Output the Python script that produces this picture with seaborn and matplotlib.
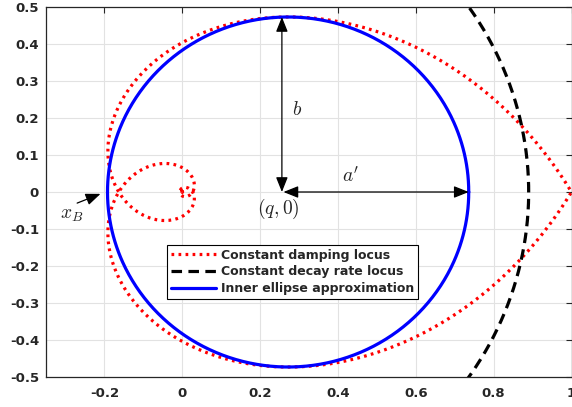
import numpy as np
import pandas as pd
import matplotlib
matplotlib.use("Agg")
import matplotlib.pyplot as plt
import seaborn as sns

# ---------------- data ----------------
damping_ratio = 0.5          # zeta of the constant damping locus
spiral_end_angle = 6 * np.pi # how far the spiral is drawn into the origin
decay_radius = 0.89          # radius of the constant decay rate locus
ellipse_q = 0.272            # centre of inner ellipse (q, 0)
ellipse_a = 0.464            # horizontal semi-axis a'
ellipse_b = 0.473            # vertical semi-axis b
annot_q = 0.256              # x of the annotation arrows
x_B = -0.21                  # point marked x_B

series_labels = ["Constant damping locus",
                 "Constant decay rate locus",
                 "Inner ellipse approximation"]
x_ticks = [-0.2, 0, 0.2, 0.4, 0.6, 0.8, 1]
x_tick_labels = ["-0.2", "0", "0.2", "0.4", "0.6", "0.8", "1"]
y_ticks = [-0.5, -0.4, -0.3, -0.2, -0.1, 0, 0.1, 0.2, 0.3, 0.4, 0.5]
y_tick_labels = ["-0.5", "-0.4", "-0.3", "-0.2", "-0.1", "0",
                 "0.1", "0.2", "0.3", "0.4", "0.5"]

# ---------------- curves ----------------
theta = np.linspace(0, spiral_end_angle, 2000)
k = damping_ratio / np.sqrt(1 - damping_ratio ** 2)
r = np.exp(-k * theta)
up = r * np.exp(1j * theta)
path = np.concatenate([np.conj(up)[::-1], up[1:]])
spiral = pd.DataFrame({"x": path.real, "y": path.imag})

phi = np.linspace(-np.pi / 2, np.pi / 2, 600)
circle = pd.DataFrame({"x": decay_radius * np.cos(phi),
                       "y": decay_radius * np.sin(phi)})

psi = np.linspace(0, 2 * np.pi, 800)
ellipse = pd.DataFrame({"x": ellipse_q + ellipse_a * np.cos(psi),
                        "y": ellipse_b * np.sin(psi)})

# ---------------- figure ----------------
sns.set_style("white")
plt.rcParams["font.family"] = ["DejaVu Sans"]
plt.rcParams["mathtext.fontset"] = "cm"

fig = plt.figure(figsize=(5.72, 4.07), dpi=100)
ax = fig.add_axes([46 / 572, 30 / 407, 525.5 / 572, 370 / 407])

sns.lineplot(data=spiral, x="x", y="y", sort=False, estimator=None,
             color="#ff0000", lw=2.3, linestyle=(0, (0.85, 1.35)),
             label=series_labels[0], ax=ax)
sns.lineplot(data=circle, x="x", y="y", sort=False, estimator=None,
             color="black", lw=2.3, linestyle=(0, (3.3, 2.0)),
             label=series_labels[1], ax=ax)
sns.lineplot(data=ellipse, x="x", y="y", sort=False, estimator=None,
             color="#0000ff", lw=2.3, label=series_labels[2], ax=ax)

ax.set_xlim(-0.35, 1.0)
ax.set_ylim(-0.5, 0.5)
ax.set_xticks(x_ticks)
ax.set_xticklabels(x_tick_labels)
ax.set_yticks(y_ticks)
ax.set_yticklabels(y_tick_labels)
ax.set_xlabel("")
ax.set_ylabel("")
for lab in ax.get_xticklabels() + ax.get_yticklabels():
    lab.set_fontweight("bold")
    lab.set_fontsize(9.5)
ax.tick_params(direction="in", length=4, width=0.8, top=True, right=True,
               colors="#262626", labelcolor="#262626")
ax.tick_params(axis="x", pad=7)
ax.tick_params(axis="y", pad=5)
ax.grid(True, color="#e2e2e2", lw=0.8)
ax.set_axisbelow(True)
for s in ax.spines.values():
    s.set_color("#262626")
    s.set_linewidth(0.9)

# annotations
arrow_kw = dict(arrowstyle="<|-|>,head_length=0.75,head_width=0.3",
                color="black", lw=0.9, shrinkA=0, shrinkB=0,
                mutation_scale=12)
ax.annotate("", xy=(annot_q, ellipse_b), xytext=(annot_q, 0),
            arrowprops=arrow_kw)
ax.annotate("", xy=(ellipse_q + ellipse_a, 0), xytext=(annot_q + 0.004, 0),
            arrowprops=arrow_kw)
ax.annotate("", xy=(x_B, -0.005), xytext=(-0.27, -0.03),
            arrowprops=dict(arrowstyle="-|>,head_length=0.75,head_width=0.3",
                            color="black", lw=0.9, shrinkA=0, shrinkB=0,
                            mutation_scale=12))
ax.text(0.295, 0.222, "$b$", fontsize=14, ha="center", va="center")
ax.text(0.433, 0.045, "$a'$", fontsize=14, ha="center", va="center")
ax.text(0.246, -0.046, "$(q,0)$", fontsize=14, ha="center", va="center")
ax.text(-0.285, -0.062, "$x_B$", fontsize=14, ha="center", va="center")

leg = ax.legend(loc="upper left", bbox_to_anchor=(0.230, 0.357),
                borderaxespad=0, frameon=True, fancybox=False,
                framealpha=1, edgecolor="black", handlelength=3.6,
                handletextpad=0.4, labelspacing=0.3, borderpad=0.3,
                prop={"weight": "bold", "size": 9})
leg.get_frame().set_linewidth(0.8)

fig.savefig("out.png", dpi=100)
